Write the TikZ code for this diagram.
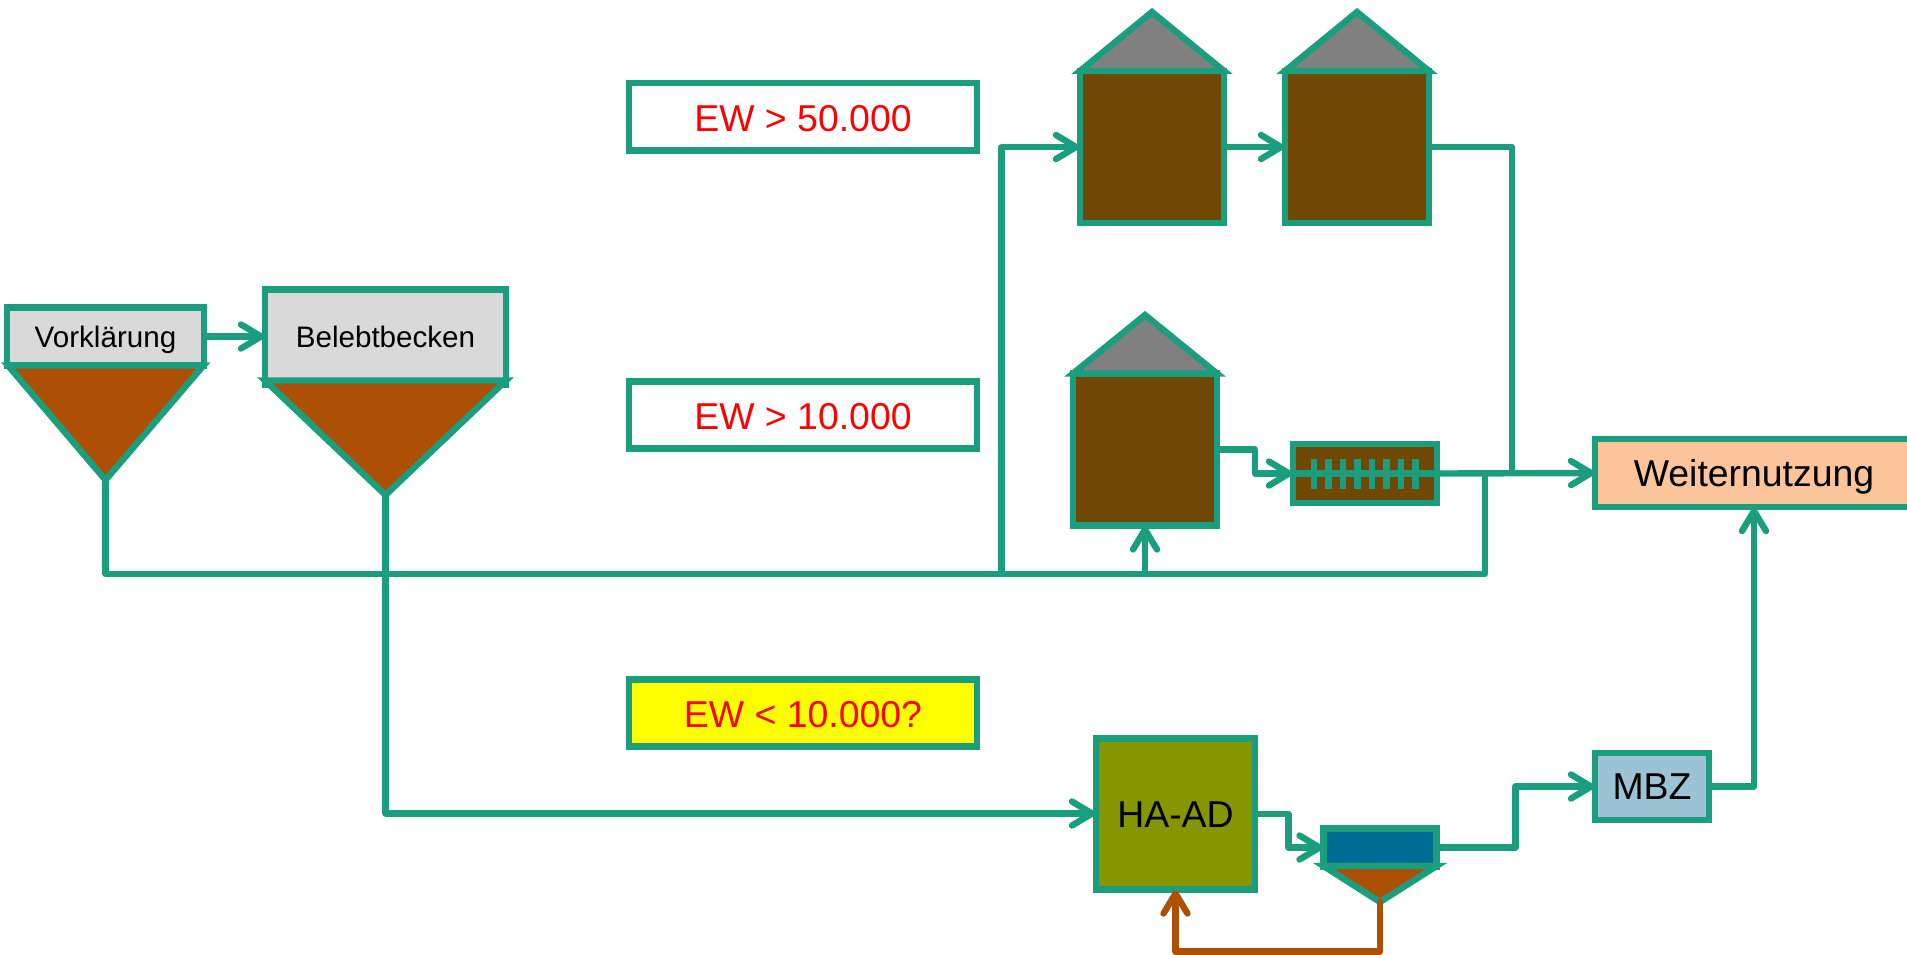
\documentclass[tikz,border=0pt]{standalone}
\usepackage{fontspec}
\setmainfont{Liberation Sans}
\usetikzlibrary{arrows.meta}
\definecolor{tealline}{HTML}{1A9E7E}
\definecolor{lightgr}{HTML}{D9D9D9}
\definecolor{sludge}{HTML}{AD5005}
\definecolor{darkbrown}{HTML}{704803}
\definecolor{roofgr}{HTML}{808080}
\definecolor{olive}{HTML}{879500}
\definecolor{wblue}{HTML}{006C94}
\definecolor{mbzblue}{HTML}{9BC3D3}
\definecolor{peach}{HTML}{FBC49B}
\definecolor{pureyellow}{HTML}{FFFF00}
\definecolor{purered}{HTML}{FF0000}
\tikzset{
  x=0.5pt,y=-0.5pt,
  boxed/.style={draw=tealline,line width=3.2pt,rectangle,inner sep=0pt,text=black,font=\fontsize{18.7}{22}\selectfont,text height=13.4pt,text depth=0pt},
  small/.style={boxed,font=\fontsize{14.8}{18}\selectfont,text height=10.6pt},
  ewbox/.style={boxed,fill=white,text=purered,minimum width=174pt,minimum height=33.6pt,text height=14.4pt},
  funnel/.style={draw=tealline,line width=3.2pt,fill=sludge,miter limit=10},
  roof/.style={draw=tealline,line width=3.2pt,fill=roofgr,miter limit=10},
  conn/.style={draw=tealline,line width=3.2pt,line join=round},
  arr/.style={conn,-{Straight Barb[length=10pt,width=12pt,round]},line cap=round,shorten >=-1.2pt},
  sludgearr/.style={draw=sludge,line width=3.2pt,line join=round,-{Straight Barb[length=10pt,width=12pt,round]},line cap=round,shorten >=-1.2pt},
}
\begin{document}
\begin{tikzpicture}
\clip (0,0) rectangle (1907,954);
% text boxes
\node[ewbox] (ew1) at (803,116.7) {EW > 50.000};
\node[ewbox] (ew2) at (803,415) {EW > 10.000};
\node[ewbox,fill=pureyellow] (ew3) at (803,713) {EW < 10.000?};
% Vorklaerung
\node[small,fill=lightgr,minimum width=98.5pt,minimum height=29pt] (vk) at (105.5,336.5) {Vorklärung};
\coordinate (vkA) at (105.5,480);
\draw[funnel] (8,365.5) -- (203.5,365.5) -- (vkA) -- cycle;
% Belebtbecken
\node[small,fill=lightgr,minimum width=120.5pt,minimum height=47.5pt] (bb) at (385.5,337) {Belebtbecken};
\coordinate (bbA) at (385.5,495);
\draw[funnel] (265,380.5) -- (506,380.5) -- (bbA) -- cycle;
% silos
\node[boxed,fill=darkbrown,minimum width=72pt,minimum height=76pt] (s1) at (1152,147) {};
\draw[roof] (1080,71) -- (1224,71) -- (1152,12) -- cycle;
\node[boxed,fill=darkbrown,minimum width=72pt,minimum height=76pt] (s2) at (1357,147) {};
\draw[roof] (1285,71) -- (1429,71) -- (1357,12) -- cycle;
\node[boxed,fill=darkbrown,minimum width=72pt,minimum height=76pt] (s3) at (1145,449.5) {};
\draw[roof] (1073,373.5) -- (1217,373.5) -- (1145,315) -- cycle;
% filter
\node[boxed,fill=darkbrown,minimum width=72pt,minimum height=29.5pt] (fi) at (1365,473.5) {};
\draw[conn] (fi.west) -- (fi.east);
\foreach \tx in {1314,1328.5,1343,1357.5,1372,1386.5,1401,1415.5}
  \draw[conn] (\tx,459) -- (\tx,488.5);
% right side
\node[boxed,fill=peach,minimum width=159pt,minimum height=34pt] (wn) at (1754,473) {Weiternutzung};
\node[boxed,fill=mbzblue,minimum width=57pt,minimum height=33.5pt] (mbz) at (1652,786.5) {MBZ};
% HA-AD and settler
\node[boxed,fill=olive,minimum width=79.5pt,minimum height=75.5pt] (ha) at (1175.5,814) {HA-AD};
\node[boxed,fill=wblue,minimum width=56.5pt,minimum height=19pt] (st) at (1380,847.5) {};
\coordinate (stA) at (1380,902);
\draw[funnel] (1323.5,866) -- (1436.5,866) -- (stA) -- cycle;
% connectors
\coordinate (main) at (105.5,574);
\coordinate (ret) at (1485,574);
\coordinate (up1) at (1001.5,574);
\coordinate (back) at (1485,473.5);
\coordinate (ha1) at (385.5,813.5);
\coordinate (bot) at (1380,951.5);
\draw[arr] (vk.east) -- (bb.west |- vk.east);
\draw[conn] (vkA) -- (main) -- (ret) -- (back);
\draw[conn] (bbA) -- (bb.south |- ha1) -- (ha1);
\draw[arr] (ha1) -- (ha.west |- ha1);
\draw[arr] (up1) -- (up1 |- s1.west) -- (s1.west);
\draw[arr] (s1.east) -- (s2.west);
\draw[conn] (s2.east) -- (1512,147) -- (1512,473);
\draw[arr] (1145,574) -- (s3.south);
\draw[arr] (s3.east) -- (1255,449.5) -- (1255,473.5) -- (fi.west);
\draw[arr] (fi.east) -- (wn.west);
\draw[arr] (mbz.east) -- (wn.south |- mbz.east) -- (wn.south);
\draw[arr] (st.east) -- (1515.5,847.5) -- (1515.5,786.5) -- (mbz.west);
\draw[arr] (ha.east) -- (1288.5,814) -- (1288.5,847.5) -- (st.west);
\draw[sludgearr] (stA) -- (bot) -- (ha.south |- bot) -- (ha.south);
\end{tikzpicture}
\end{document}
